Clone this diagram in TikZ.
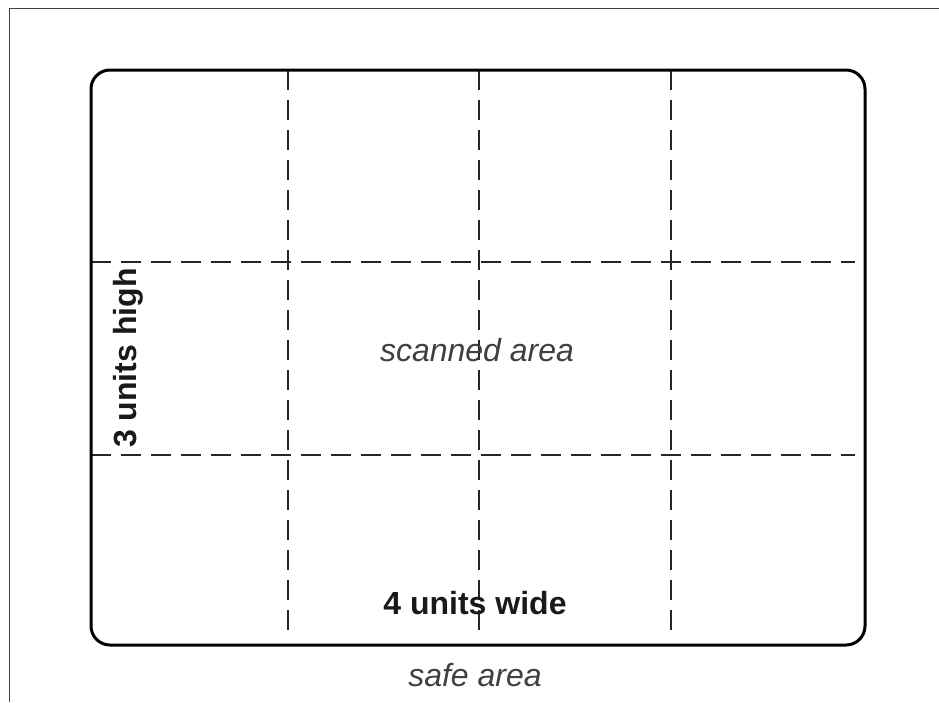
\documentclass[tikz,border=0pt]{standalone}
\usepackage{fontspec}
\setmainfont{Liberation Sans}
\begin{document}
\begin{tikzpicture}[x=1pt,y=-1pt,
  gridline/.style={line width=2pt,draw=black!85,dash pattern=on 20pt off 10pt},
  boxline/.style={line width=3pt,draw=black,rounded corners=19pt},
  frameline/.style={line width=1.8pt,draw=black!75},
  lbl/.style={font=\fontsize{32}{36}\selectfont,inner sep=0pt},
  ital/.style={lbl,text=black!75,font=\fontsize{32}{36}\selectfont\itshape},
  bld/.style={lbl,text=black!90,font=\fontsize{32}{36}\selectfont\bfseries}]
\useasboundingbox (0,0) rectangle (939,702);
\fill[white] (0,0) rectangle (939,702);
% outer frame (only top and left edges visible)
\draw[frameline] (9.5,702) -- (9.5,8.5) -- (939,8.5);
% grid
\coordinate (v1t) at (288,70); \coordinate (v1b) at (288,635);
\coordinate (v2t) at (479,70); \coordinate (v2b) at (479,635);
\coordinate (v3t) at (671,70); \coordinate (v3b) at (671,635);
\coordinate (h1l) at (91,262); \coordinate (h1r) at (855,262);
\coordinate (h2l) at (91,455); \coordinate (h2r) at (855,455);
\draw[gridline] (v1t) -- (v1b);
\draw[gridline] (v2t) -- (v2b);
\draw[gridline] (v3t) -- (v3b);
\draw[gridline] (h1l) -- (h1r);
\draw[gridline] (h2l) -- (h2r);
% safe area box
\draw[boxline] (91,70) rectangle (865,645);
% labels
\node[ital] (scanned) at (477,350) {scanned area};
\node[bld] (wide) at (475,603) {4 units wide};
\node[ital] (safe) at (475,675) {safe area};
\node[bld,rotate=90] (high) at (128,358) {3 units high};
\end{tikzpicture}
\end{document}
